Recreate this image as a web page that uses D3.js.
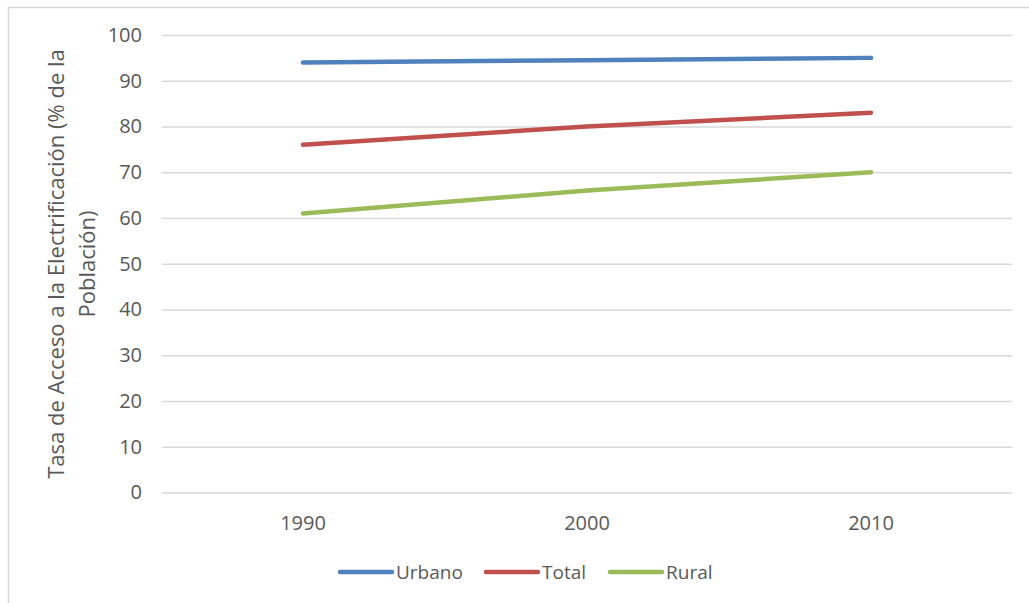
<!DOCTYPE html>
<html><head><meta charset="utf-8">
<script src="https://cdn.jsdelivr.net/npm/d3@7"></script>
<style>
html,body{margin:0;padding:0;background:#fff;}
svg{display:block;font-family:"Open Sans",sans-serif;}
</style></head>
<body><svg id="c" width="1029" height="603"></svg>
<script>
const categories = ["1990", "2000", "2010"];
const urbano = [94, 94.5, 95];
const total = [76, 80, 83];
const rural = [61, 66, 70];
const seriesNames = ["Urbano", "Total", "Rural"];
const seriesColors = ["#4F81BD", "#C0504D", "#9BBB59"];
const yTicks = [0, 10, 20, 30, 40, 50, 60, 70, 80, 90, 100];
const yTitle = ["Tasa de Acceso a la Electrificación (% de la", "Población)"];

const series = [urbano, total, rural];
const svg = d3.select("#c");
const L = 162, R = 1012, T = 35, B = 492.5;
const x = d3.scaleBand().domain(categories).range([L - 1, R + 1]);
const y = d3.scaleLinear().domain([0, 100]).range([B, T]);

svg.append("rect").attr("x", 8.5).attr("y", 7.5).attr("width", 1030).attr("height", 610)
  .attr("fill", "none").attr("stroke", "#D9D9D9").attr("stroke-width", 1.5);

const ya = svg.append("g").attr("transform", `translate(${L},0)`)
  .call(d3.axisLeft(y).tickValues(yTicks).tickSizeInner(-(R - L)).tickSizeOuter(0).tickPadding(20));
ya.select(".domain").remove();
ya.selectAll(".tick line").attr("stroke", "#D9D9D9").attr("stroke-width", 1.3);
ya.selectAll(".tick text").attr("fill", "#595959").attr("font-size", 20).attr("font-family", "Open Sans");

const xa = svg.append("g").attr("transform", `translate(0,${B})`)
  .call(d3.axisBottom(x).tickSize(0).tickPadding(23));
xa.select(".domain").remove();
xa.selectAll(".tick text").attr("fill", "#595959").attr("font-size", 20).attr("font-family", "Open Sans");

const line = d3.line().x((d, i) => x(categories[i]) + x.bandwidth() / 2).y(d => y(d));
series.forEach((s, k) => {
  svg.append("path").datum(s).attr("d", line).attr("fill", "none")
    .attr("stroke", seriesColors[k]).attr("stroke-width", 4.5).attr("stroke-linecap", "round");
});

const t = svg.append("text").attr("transform", "translate(64,264) rotate(-90)")
  .attr("text-anchor", "middle").attr("fill", "#595959").attr("font-size", 22);
t.append("tspan").attr("x", 0).attr("y", 0).text(yTitle[0]);
t.append("tspan").attr("x", 0).attr("y", 31).text(yTitle[1]);

const legX = [340, 486, 610];
const lg = svg.append("g");
seriesNames.forEach((n, k) => {
  lg.append("line").attr("x1", legX[k]).attr("x2", legX[k] + 52).attr("y1", 572).attr("y2", 572)
    .attr("stroke", seriesColors[k]).attr("stroke-width", 4.5).attr("stroke-linecap", "round");
  lg.append("text").attr("x", legX[k] + 56).attr("y", 579).attr("fill", "#595959").attr("font-size", 19).text(n);
});
</script></body></html>
